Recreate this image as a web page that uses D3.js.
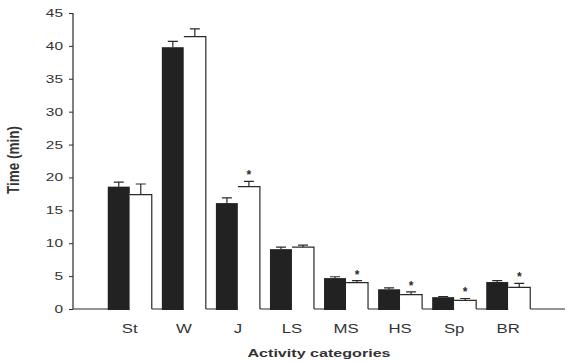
<!DOCTYPE html>
<html>
<head>
<meta charset="utf-8">
<script src="https://cdn.jsdelivr.net/npm/d3@7"></script>
<style>
  html, body { margin: 0; padding: 0; background: #fff; }
  svg { display: block; font-family: "Liberation Sans", Arial, sans-serif; }
</style>
</head>
<body>
<svg id="chart" width="567" height="362"></svg>
<script>
// Activity categories and mean time (min) per group, with SE
const categories = ["St", "W", "J", "LS", "MS", "HS", "Sp", "BR"];
const darkValues = [18.6, 39.8, 16.1, 9.1, 4.7, 3.0, 1.8, 4.1];
const darkErrors = [0.7, 0.9, 0.8, 0.3, 0.2, 0.2, 0.1, 0.2];
const lightValues = [17.4, 41.4, 18.6, 9.4, 4.0, 2.2, 1.3, 3.3];
const lightErrors = [1.6, 1.2, 0.8, 0.3, 0.3, 0.4, 0.3, 0.6];
const significant = [false, false, true, false, true, true, true, true];
const yTicks = [0, 5, 10, 15, 20, 25, 30, 35, 40, 45];

const svg = d3.select("#chart");
const x0 = 73, x1 = 565, yTop = 13, yBase = 309;
const barW = 22;
const stretch = 1.4; // wide lettering

const x = d3.scalePoint().domain(categories).range([x0, x1]).padding(1.05);
const y = d3.scaleLinear().domain([0, 45]).range([yBase, yTop]);

const ink = "#2a2a2a";

// y axis
const yAxis = svg.append("g")
  .attr("transform", `translate(${x0},0)`)
  .call(d3.axisLeft(y).tickValues(yTicks).tickSize(4).tickPadding(6));
yAxis.select(".domain").attr("stroke", ink).attr("stroke-width", 1.2)
  .attr("d", `M0,${y(45)}V${y(0)}`);
yAxis.selectAll(".tick line").attr("stroke", ink);
yAxis.selectAll(".tick text")
  .attr("fill", "#333").attr("font-size", 11)
  .attr("x", 0)
  .attr("transform", `translate(-10,0) scale(${stretch},1)`);

// baseline
svg.append("line")
  .attr("x1", x0).attr("x2", x1)
  .attr("y1", y(0)).attr("y2", y(0))
  .attr("stroke", ink).attr("stroke-width", 1.2);

const groups = svg.append("g").selectAll("g")
  .data(categories.map((c, i) => ({
    c, d: darkValues[i], de: darkErrors[i],
    l: lightValues[i], le: lightErrors[i], sig: significant[i]
  })))
  .join("g");

// dark bars
groups.append("rect")
  .attr("x", d => x(d.c) - barW)
  .attr("y", d => y(d.d))
  .attr("width", barW)
  .attr("height", d => y(0) - y(d.d) + 1)
  .attr("fill", "#222");

// light bars: white fill hides the baseline, outline on top and right side
groups.append("rect")
  .attr("x", d => x(d.c))
  .attr("y", d => y(d.l))
  .attr("width", barW)
  .attr("height", d => y(0) - y(d.l) + 1.5)
  .attr("fill", "#fff");
groups.append("path")
  .attr("d", d => `M${x(d.c)},${y(d.l)}H${x(d.c) + barW}V${y(0)}`)
  .attr("fill", "none")
  .attr("stroke", ink)
  .attr("stroke-width", 1.2);

// error bars
function errorBar(sel, cx, v, e) {
  sel.append("path")
    .attr("d", d => {
      const xc = cx(d), top = y(v(d) + e(d)), base = y(v(d));
      return `M${xc},${base}V${top}M${xc - 5},${top}H${xc + 5}`;
    })
    .attr("fill", "none")
    .attr("stroke", ink)
    .attr("stroke-width", 1.2);
}
errorBar(groups, d => x(d.c) - barW / 2, d => d.d, d => d.de);
errorBar(groups, d => x(d.c) + barW / 2, d => d.l, d => d.le);

// significance marks
groups.filter(d => d.sig).append("text")
  .attr("x", d => x(d.c) + barW / 2)
  .attr("y", d => y(d.l + d.le) - 2)
  .attr("text-anchor", "middle")
  .attr("font-size", 12)
  .attr("font-weight", "bold")
  .attr("fill", ink)
  .text("*");

// category labels
svg.append("g").selectAll("text")
  .data(categories)
  .join("text")
  .attr("transform", d => `translate(${x(d)},333) scale(${stretch},1)`)
  .attr("text-anchor", "middle")
  .attr("font-size", 12)
  .attr("fill", "#333")
  .text(d => d);

// axis titles
svg.append("text")
  .attr("transform", `translate(319,357) scale(${stretch},1)`)
  .attr("text-anchor", "middle")
  .attr("font-size", 11.5).attr("font-weight", "bold")
  .attr("fill", "#333")
  .text("Activity categories");

svg.append("text")
  .attr("transform", "translate(19,160) scale(1.2,1) rotate(-90)")
  .attr("text-anchor", "middle")
  .attr("font-size", 13.5).attr("font-weight", "bold")
  .attr("fill", "#333")
  .text("Time (min)");
</script>
</body>
</html>
